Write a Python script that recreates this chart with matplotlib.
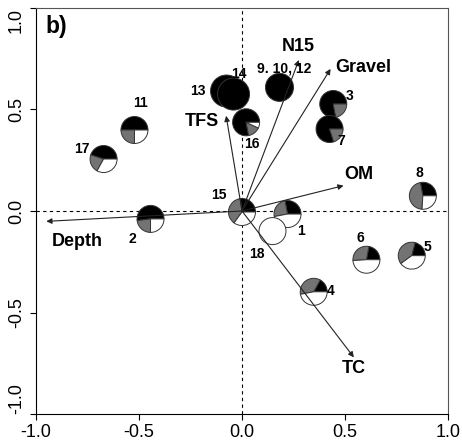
import matplotlib
matplotlib.use("Agg")
import matplotlib.pyplot as plt
import matplotlib.transforms as mtransforms
from matplotlib.patches import Wedge

plt.rcParams["font.family"] = ["Liberation Sans", "DejaVu Sans"]

# sample pies: position in ordination space and composition (black, grey, white)
site_names = ["1", "2", "3", "4", "5", "6", "7", "8", "9. 10, 12",
              "11", "13", "14", "15", "16", "17", "18"]
site_x = [0.221, -0.444, 0.443, 0.348, 0.824, 0.604, 0.425, 0.878, 0.182,
          -0.522, -0.075, -0.041, 0.000, 0.020, -0.672, 0.148]
site_y = [-0.015, -0.039, 0.527, -0.398, -0.220, -0.240, 0.404, 0.075, 0.609,
          0.399, 0.591, 0.576, -0.005, 0.437, 0.256, -0.099]
frac_black = [0.28, 0.52, 0.78, 0.17, 0.21, 0.22, 0.80, 0.28, 1.00,
              0.50, 1.00, 1.00, 0.27, 0.78, 0.45, 0.00]
frac_grey = [0.25, 0.23, 0.22, 0.36, 0.39, 0.29, 0.20, 0.46, 0.00,
             0.25, 0.00, 0.00, 0.38, 0.15, 0.22, 0.00]
frac_white = [0.47, 0.25, 0.00, 0.47, 0.40, 0.49, 0.00, 0.26, 0.00,
              0.25, 0.00, 0.00, 0.35, 0.07, 0.33, 1.00]

# environmental vectors
env_names = ["Depth", "TFS", "N15", "Gravel", "OM", "TC"]
env_x = [-0.950, -0.077, 0.276, 0.430, 0.493, 0.543]
env_y = [-0.051, 0.469, 0.744, 0.700, 0.125, -0.721]

ticks = [-1.0, -0.5, 0.0, 0.5, 1.0]

# layout (pixels): pie radius and label offsets from pie centre
pie_r = {"9. 10, 12": 14, "13": 16, "14": 16}
site_off = {"1": (13, -17), "2": (-18, -20), "3": (16, 8), "4": (17, 1),
            "5": (16, 9), "6": (-6, 22), "7": (12, -12), "8": (-3, 23),
            "9. 10, 12": (5, 19), "11": (6, 27), "13": (-29, 0),
            "14": (5, 20), "15": (-23, 17), "16": (6, -22), "17": (-22, 10),
            "18": (-16, -23)}
env_label_pos = {"Depth": (-0.798, -0.150), "TFS": (-0.197, 0.443),
                 "N15": (0.274, 0.808), "Gravel": (0.590, 0.709),
                 "OM": (0.566, 0.179), "TC": (0.541, -0.778)}

fig = plt.figure(figsize=(4.62, 4.40), dpi=100)
ax = fig.add_axes([36 / 462, 26 / 440, 412 / 462, 406 / 440])
ax.set_xlim(-1.0, 1.0)
ax.set_ylim(-1.0, 1.0)

ax.axhline(0, color="black", lw=0.8, ls=(0, (3, 3)), zorder=1)
ax.axvline(0, color="black", lw=0.8, ls=(0, (3, 3)), zorder=1)

colors = ["black", "#737373", "white"]
for i, name in enumerate(site_names):
    r = pie_r.get(name, 13.5) / 100.0
    tr = fig.dpi_scale_trans + mtransforms.ScaledTranslation(site_x[i], site_y[i], ax.transData)
    start = 0.0
    for frac, c in zip([frac_black[i], frac_grey[i], frac_white[i]], colors):
        if frac <= 0:
            continue
        end = start + frac * 360.0
        ax.add_patch(Wedge((0, 0), r, start, end, facecolor=c, edgecolor="#333333",
                           lw=0.7, transform=tr, zorder=3 + i * 0.01))
        start = end
    dx, dy = site_off[name]
    ax.annotate(name, (site_x[i], site_y[i]), xytext=(dx, dy), textcoords="offset pixels",
                ha="center", va="center", fontsize=10, fontweight="bold", zorder=6)

for i, name in enumerate(env_names):
    ax.annotate("", xy=(env_x[i], env_y[i]), xytext=(0, 0),
                arrowprops=dict(arrowstyle="-|>", color="#222222", lw=0.8,
                                mutation_scale=8, shrinkA=0, shrinkB=0),
                zorder=5)
    lx, ly = env_label_pos[name]
    ax.text(lx, ly, name, ha="center", va="center", fontsize=13,
            fontweight="bold", zorder=6)

ax.text(-0.90, 0.91, "b)", ha="center", va="center", fontsize=16.5, fontweight="bold")

ax.set_xticks(ticks)
ax.set_yticks(ticks)
ax.set_xticklabels([f"{t:.1f}" for t in ticks])
ax.set_yticklabels([f"{t:.1f}" for t in ticks], rotation=90, va="center")
ax.tick_params(direction="out", length=4, width=0.8, labelsize=13, pad=3)
ax.tick_params(axis="y", pad=4)
ylabs = ax.get_yticklabels()
ylabs[0].set_va("bottom")
ylabs[-1].set_va("top")

for side in ["left", "bottom"]:
    ax.spines[side].set_color("black")
    ax.spines[side].set_linewidth(0.8)
for side in ["top", "right"]:
    ax.spines[side].set_color("#555555")
    ax.spines[side].set_linewidth(0.8)

fig.savefig("out.png", dpi=100)
